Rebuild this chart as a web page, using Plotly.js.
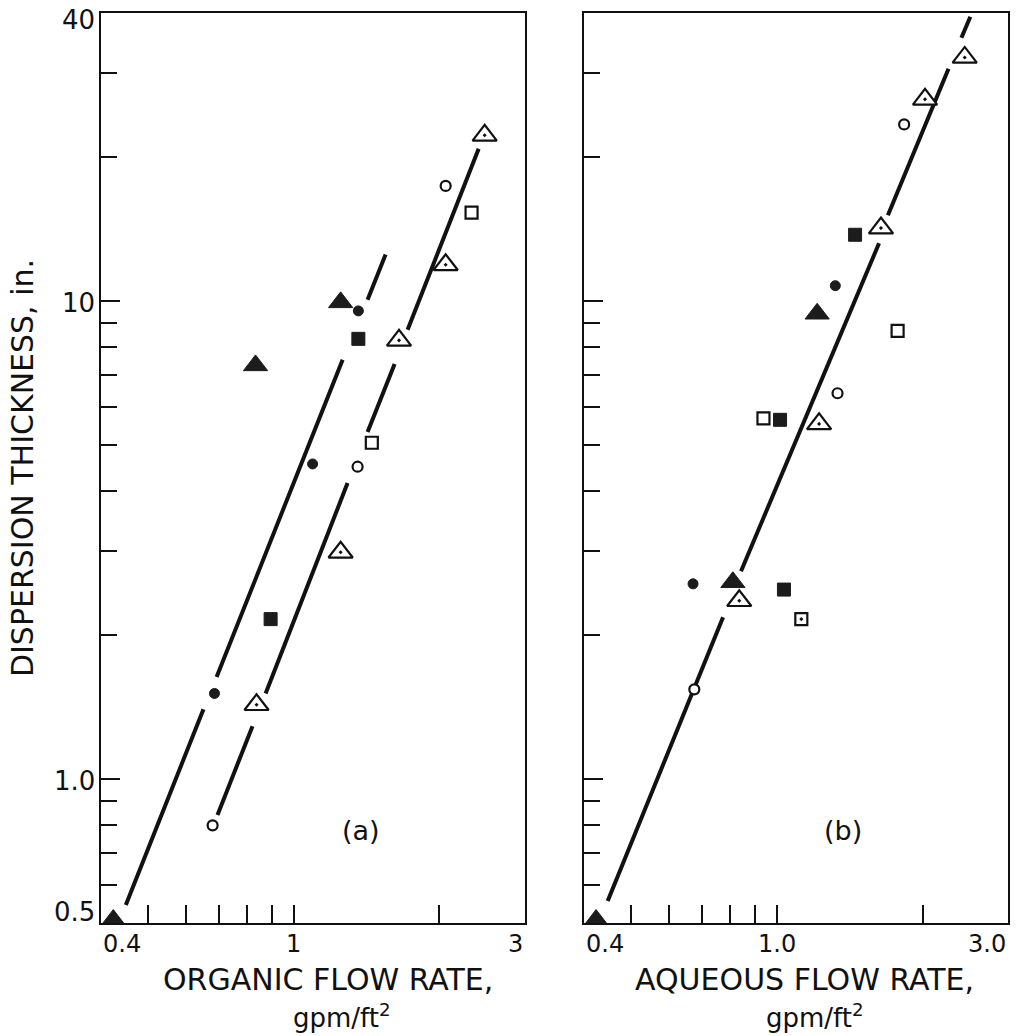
<!DOCTYPE html>
<html><head><meta charset="utf-8">
<script src="https://cdn.plot.ly/plotly-3.0.1.min.js"></script>
<style>html,body{margin:0;padding:0;background:#fff}</style>
</head><body>
<div id="chart" style="width:1020px;height:1036px"></div>
<script>
// ---------- Panel (a): organic flow rate ----------
const aOpenTriX  = [2.48, 2.06, 1.65, 1.25, 0.838];
const aOpenTriY  = [22.2, 11.9, 8.27, 2.98, 1.43];
const aOpenCircX = [2.06, 1.355, 0.68];
const aOpenCircY = [17.4, 4.50, 0.80];
const aOpenSqX   = [2.33, 1.45];
const aOpenSqY   = [15.3, 5.05];
const aFillTriX  = [1.25, 0.834, 0.424];
const aFillTriY  = [9.93, 7.33, 0.507];
const aFillCircX = [1.36, 1.094, 0.686];
const aFillCircY = [9.53, 4.56, 1.51];
const aFillSqX   = [1.36, 0.896];
const aFillSqY   = [8.33, 2.16];
// correlation lines, broken around the points
const aLine1X = [0.450, 0.651, null, 0.693, 1.262, null, 1.421, 1.548];
const aLine1Y = [0.545, 1.40, null, 1.635, 7.53, null, 10.06, 12.5];
const aLine2X = [0.696, 0.822, null, 0.875, 1.292, null, 1.421, 1.616, null, 1.719, 2.41];
const aLine2Y = [0.841, 1.29, null, 1.51, 4.16, null, 5.32, 7.38, null, 8.70, 20.8];

// ---------- Panel (b): aqueous flow rate ----------
const bOpenTriX  = [2.443, 2.023, 1.641, 1.223, 0.837];
const bOpenTriY  = [32.3, 26.4, 14.2, 5.53, 2.36];
const bOpenCircX = [1.832, 1.335, 0.676];
const bOpenCircY = [23.4, 6.41, 1.54];
const bOpenSqX   = [1.776, 0.939];
const bOpenSqY   = [8.66, 5.68];
const bOpenSqDotX = [1.124];
const bOpenSqDotY = [2.16];
const bFillSqX   = [1.451, 1.016, 1.035];
const bFillSqY   = [13.75, 5.64, 2.49];
const bFillCircX = [1.321, 0.672];
const bFillCircY = [10.76, 2.56];
const bFillTriX  = [1.212, 0.812, 0.424];
const bFillTriY  = [9.4, 2.58, 0.507];
const bLineX = [0.448, 0.775, null, 0.844, 1.626, null, 1.696, 2.262, null, 2.405, 2.509];
const bLineY = [0.556, 2.18, null, 2.72, 13.2, null, 15.1, 30.6, null, 35.5, 39.3];

// ---------- ticks and tick labels ----------
const yMajorVals = [0.5, 1, 10, 40];
const yLabelText = ['0.5', '1.0', '10', '40'];
const yMinorVals = [0.6,0.7,0.8,0.9,2,3,4,5,6,7,8,9,20,30];
const xTickVals  = [0.5,0.6,0.7,0.8,0.9,1,2];
const aXLabelVals = [0.4, 1, 3];
const aXLabelText = ['0.4', '1', '3'];
const bXLabelVals = [0.4, 1, 3];
const bXLabelText = ['0.4', '1.0', '3.0'];

// ---------- titles ----------
const yTitle  = 'DISPERSION THICKNESS, in.';
const aXTitle = 'ORGANIC FLOW RATE,';
const bXTitle = 'AQUEOUS FLOW RATE,';
const xUnits  = 'gpm/ft<sup>2</sup>';

const FONT = 'DejaVu Sans, sans-serif';
const INK = '#111';
const FILL = '#1c1c1c';
const L10 = Math.log10;
const EPS = 1e-4;

function line(x, y, xa, ya) {
  return {x, y, xaxis: xa, yaxis: ya, mode: 'lines', connectgaps: false,
          line: {color: INK, width: 4}, hoverinfo: 'skip', showlegend: false};
}
function pts(x, y, xa, ya, symbol, size, filled) {
  return {x, y, xaxis: xa, yaxis: ya, mode: 'markers', showlegend: false,
          marker: {symbol, size, color: filled ? FILL : '#fff',
                   line: {color: filled ? FILL : INK, width: filled ? 1 : 2.2}}};
}

const traces = [
  line(aLine1X, aLine1Y, 'x', 'y'),
  line(aLine2X, aLine2Y, 'x', 'y'),
  pts(aFillTriX, aFillTriY, 'x', 'y', 'triangle-up', 21, true),
  pts(aOpenTriX, aOpenTriY, 'x', 'y', 'triangle-up-dot', 21, false),
  pts(aOpenSqX, aOpenSqY, 'x', 'y', 'square', 12, false),
  pts(aFillSqX, aFillSqY, 'x', 'y', 'square', 13, true),
  pts(aOpenCircX, aOpenCircY, 'x', 'y', 'circle', 10, false),
  pts(aFillCircX, aFillCircY, 'x', 'y', 'circle', 10, true),

  line(bLineX, bLineY, 'x2', 'y2'),
  pts(bFillTriX, bFillTriY, 'x2', 'y2', 'triangle-up', 21, true),
  pts(bOpenTriX, bOpenTriY, 'x2', 'y2', 'triangle-up-dot', 21, false),
  pts(bOpenSqX, bOpenSqY, 'x2', 'y2', 'square', 12, false),
  pts(bOpenSqDotX, bOpenSqDotY, 'x2', 'y2', 'square-dot', 12, false),
  pts(bFillSqX, bFillSqY, 'x2', 'y2', 'square', 13, true),
  pts(bOpenCircX, bOpenCircY, 'x2', 'y2', 'circle', 10, false),
  pts(bFillCircX, bFillCircY, 'x2', 'y2', 'circle', 10, true)
];

const axBase = {
  type: 'log', showline: true, linewidth: 2, linecolor: INK, mirror: true,
  ticks: 'inside', ticklen: 17, tickwidth: 2, tickcolor: INK,
  showgrid: false, zeroline: false, tickmode: 'array', showticklabels: false
};
const xRange = [L10(0.4) - EPS, L10(3) + EPS];
const yRange = [L10(0.5) - EPS, L10(40) + EPS];
const yMinor = {tickmode: 'array', tickvals: yMinorVals, ticks: 'inside', ticklen: 16,
                tickwidth: 2, tickcolor: INK, showgrid: false};

const annotations = [
  {text: '(a)', xref: 'x domain', yref: 'y domain', x: 0.613, y: 0.082,
   showarrow: false, font: {family: FONT, size: 27, color: INK}},
  {text: '(b)', xref: 'x2 domain', yref: 'y2 domain', x: 0.611, y: 0.082,
   showarrow: false, font: {family: FONT, size: 27, color: INK}}
];
function addXLabels(vals, texts, xref) {
  vals.forEach((v, i) => {
    annotations.push({
      text: texts[i], xref: xref, yref: 'paper', x: L10(v), y: 0,
      xanchor: i === 0 ? 'left' : (i === vals.length - 1 ? 'right' : 'center'),
      yanchor: 'top', yshift: -5, showarrow: false,
      font: {family: FONT, size: 24, color: INK}
    });
  });
}
addXLabels(aXLabelVals, aXLabelText, 'x');
addXLabels(bXLabelVals, bXLabelText, 'x2');
function addYLabels(vals, texts) {
  vals.forEach((v, i) => {
    annotations.push({
      text: texts[i], xref: 'paper', yref: 'y', x: 0, y: L10(v),
      xanchor: 'right', yanchor: 'middle', xshift: -4,
      yshift: i === 0 ? 11 : (i === vals.length - 1 ? -7 : -2),
      showarrow: false, font: {family: FONT, size: 26, color: INK}
    });
  });
}
addYLabels(yMajorVals, yLabelText);
function addXTitle(text, units, xref, xMain, xUnit) {
  annotations.push({text: text, xref: xref, yref: 'paper', x: xMain, y: 0,
    xanchor: 'center', yanchor: 'top', yshift: -37, showarrow: false,
    font: {family: FONT, size: 30, color: INK}});
  annotations.push({text: units, xref: xref, yref: 'paper', x: xUnit, y: 0,
    xanchor: 'center', yanchor: 'top', yshift: -74, showarrow: false,
    font: {family: FONT, size: 26, color: INK}});
}
addXTitle(aXTitle, xUnits, 'x domain', 0.535, 0.568);
addXTitle(bXTitle, xUnits, 'x2 domain', 0.521, 0.545);

const layout = {
  width: 1020, height: 1036,
  margin: {l: 101, r: 12, t: 13, b: 113},
  paper_bgcolor: '#fff', plot_bgcolor: '#fff',
  font: {family: FONT, color: INK},
  showlegend: false,
  xaxis: Object.assign({}, axBase, {
    domain: [0, 0.4672], anchor: 'y', range: xRange,
    tickvals: xTickVals, ticklen: 18
  }),
  yaxis: Object.assign({}, axBase, {
    domain: [0, 1], anchor: 'x', range: yRange,
    tickvals: yMajorVals, ticklen: 19, minor: yMinor,
    title: {text: yTitle, font: {family: FONT, size: 30, color: INK}, standoff: 57}
  }),
  xaxis2: Object.assign({}, axBase, {
    domain: [0.5323, 1], anchor: 'y2', range: xRange,
    tickvals: xTickVals, ticklen: 18
  }),
  yaxis2: Object.assign({}, axBase, {
    domain: [0, 1], anchor: 'x2', range: yRange,
    tickvals: yMajorVals, ticklen: 19, minor: yMinor
  }),
  annotations: annotations
};

Plotly.newPlot('chart', traces, layout, {displayModeBar: false, staticPlot: true});
</script>
</body></html>
